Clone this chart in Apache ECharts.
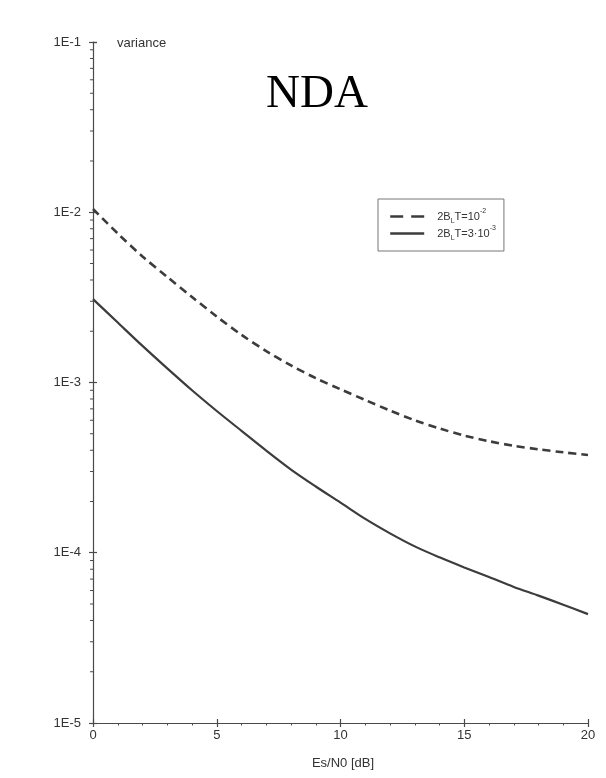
<!DOCTYPE html>
<html>
<head>
<meta charset="utf-8">
<script src="https://cdn.jsdelivr.net/npm/echarts@6/dist/echarts.min.js"></script>
<style>
  html, body { margin: 0; padding: 0; background: #fff; }
  #chart { width: 606px; height: 778px; }
</style>
</head>
<body>
<div id="chart"></div>
<script>
// Es/N0 in dB
const esn0 = [0, 1, 2, 3, 4, 5, 6, 7, 8, 9, 10, 11, 12, 13, 14, 15, 16, 17, 18, 19, 20];

// variance for 2B_L T = 10^-2
const varWide = [1.045e-2, 7.50e-3, 5.50e-3, 4.17e-3, 3.18e-3, 2.44e-3, 1.905e-3, 1.53e-3,
  1.26e-3, 1.06e-3, 9.12e-4, 7.89e-4, 6.84e-4, 6.0e-4, 5.37e-4, 4.88e-4, 4.52e-4,
  4.25e-4, 4.05e-4, 3.89e-4, 3.75e-4];

// variance for 2B_L T = 3·10^-3
const varNarrow = [3.09e-3, 2.25e-3, 1.64e-3, 1.21e-3, 9.0e-4, 6.8e-4, 5.2e-4, 3.98e-4,
  3.08e-4, 2.45e-4, 1.97e-4, 1.58e-4, 1.30e-4, 1.09e-4, 9.4e-5, 8.2e-5, 7.2e-5,
  6.3e-5, 5.6e-5, 4.95e-5, 4.36e-5];

const seriesNames = ['2B{sub|L}T=10{sup|-2}', '2B{sub|L}T=3·10{sup|-3}'];

// minor log ticks (2..9 within each decade)
const minorLogTicks = [];
for (let d = -5; d <= -2; d++) {
  for (let k = 2; k <= 9; k++) minorLogTicks.push(k * Math.pow(10, d));
}

const axisColor = '#4a4a4a';
const inkColor = '#3c3c3c';
const font = 'Liberation Sans, Arial, sans-serif';

const chart = echarts.init(document.getElementById('chart'), null, { renderer: 'canvas' });

const pair = arr => esn0.map((x, i) => [x, arr[i]]);

chart.setOption({
  animation: false,
  backgroundColor: '#fff',
  title: {
    text: 'NDA',
    left: 261,
    top: 66,
    textStyle: { fontFamily: 'Liberation Serif, Times New Roman, serif', fontSize: 47, fontWeight: 'normal', color: '#000' }
  },
  legend: {
    orient: 'vertical',
    left: 378,
    top: 199,
    padding: [9, 8, 9, 11],
    itemGap: 0,
    itemWidth: 34,
    itemHeight: 12,
    borderColor: '#777',
    borderWidth: 1,
    borderRadius: 0,
    data: [
      { name: seriesNames[0], lineStyle: { type: [13, 8] } },
      { name: seriesNames[1] }
    ],
    itemStyle: { opacity: 0 },
    lineStyle: { width: 2.4 },
    formatter: n => n,
    textStyle: {
      fontFamily: font,
      fontSize: 11,
      color: '#333',
      padding: [0, 0, 0, 8],
      rich: {
        sub: { fontSize: 7, verticalAlign: 'bottom', lineHeight: 7, padding: [0, 0, -3, 0] },
        sup: { fontSize: 7, verticalAlign: 'top', lineHeight: 7, padding: [-3, 0, 0, 0] }
      }
    }
  },
  grid: { left: 93, right: 18, top: 42, bottom: 55 },
  xAxis: [{
    type: 'value',
    min: 0, max: 20, interval: 5,
    name: 'Es/N0 [dB]',
    nameLocation: 'middle',
    nameGap: 34,
    nameTextStyle: { fontFamily: font, fontSize: 13, color: '#333', padding: [0, 0, 0, 5] },
    axisLine: { show: true, lineStyle: { color: axisColor, width: 1.2 } },
    axisTick: { show: true, length: 4, lineStyle: { color: axisColor, width: 1.2 } },
    minorTick: { show: true, splitNumber: 5, length: 2.5, lineStyle: { color: axisColor, width: 1 } },
    axisLabel: { fontFamily: font, fontSize: 13, color: '#333', margin: 6 },
    splitLine: { show: false }
  }, {
    type: 'value',
    position: 'bottom',
    min: 0, max: 20, interval: 5,
    axisLine: { show: false },
    axisTick: { show: true, inside: true, length: 4, lineStyle: { color: axisColor, width: 1.2 } },
    axisLabel: { show: false },
    splitLine: { show: false }
  }],
  yAxis: [{
    type: 'log',
    logBase: 10,
    min: 1e-5, max: 1e-1,
    position: 'left',
    name: 'variance',
    nameLocation: 'end',
    nameGap: -1,
    nameTextStyle: { fontFamily: font, fontSize: 13, color: '#333', align: 'left', verticalAlign: 'middle', padding: [0, 0, 0, 24] },
    axisLine: { show: true, lineStyle: { color: axisColor, width: 1.2 } },
    axisTick: { show: true, length: 4, lineStyle: { color: axisColor, width: 1.2 } },
    axisLabel: {
      fontFamily: font, fontSize: 13, color: '#333', margin: 12,
      formatter: v => '1E' + Math.round(Math.log10(v))
    },
    splitLine: { show: false }
  }, {
    type: 'log',
    logBase: 10,
    min: 1e-5, max: 1e-1,
    position: 'left',
    axisLine: { show: false },
    axisTick: { show: true, inside: true, length: 4, lineStyle: { color: axisColor, width: 1.2 } },
    axisLabel: { show: false },
    splitLine: { show: false }
  }],
  series: [{
    name: seriesNames[0],
    type: 'line',
    data: pair(varWide),
    smooth: 0.3,
    symbol: 'none',
    lineStyle: { color: inkColor, width: 2.6, type: [8, 5] },
    itemStyle: { color: inkColor }
  }, {
    name: seriesNames[1],
    type: 'line',
    data: pair(varNarrow),
    smooth: 0.3,
    symbol: 'none',
    lineStyle: { color: inkColor, width: 2.2, type: 'solid' },
    itemStyle: { color: inkColor }
  }, {
    // minor decade ticks on the variance axis
    type: 'custom',
    silent: true,
    clip: false,
    data: minorLogTicks.map(v => [0, v]),
    renderItem: (params, api) => {
      const p = api.coord([api.value(0), api.value(1)]);
      return {
        type: 'line',
        shape: { x1: p[0] - 3, y1: p[1], x2: p[0], y2: p[1] },
        style: { stroke: axisColor, lineWidth: 1 }
      };
    }
  }]
});
</script>
</body>
</html>
